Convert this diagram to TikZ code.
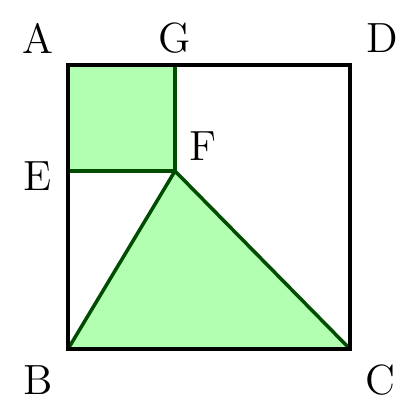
\documentclass[tikz,border=0pt]{standalone}
\usepackage{amsmath, amssymb}
\begin{document}
\begin{tikzpicture}[
    x=0.01cm, y=-0.01cm,
    region/.style={fill=green!30, draw=green!30!black, line width=1pt, line join=round},
    frame/.style={draw=black, line width=1.4pt},
    lbl/.style={font=\large, inner sep=0pt}
]
    \useasboundingbox (0,0) rectangle (420,414);
    % Points
    \coordinate (A) at (68,65);
    \coordinate (D) at (350,65);
    \coordinate (C) at (350,349);
    \coordinate (B) at (68,349);
    \coordinate (G) at (175,65);
    \coordinate (E) at (68,171);
    \coordinate (F) at (175,171);

    % Shaded regions
    \draw[region] (A) -- (G) -- (F) -- (E) -- cycle;
    \draw[region] (B) -- (F) -- (C) -- cycle;
    \draw[frame] (A) rectangle (C);

    % Labels
    \node[lbl] (lA) at (38,38) {A};
    \node[lbl] (lG) at (175,38) {G};
    \node[lbl] (lD) at (382,38) {D};
    \node[lbl] (lF) at (203,146) {F};
    \node[lbl] (lE) at (38,176) {E};
    \node[lbl] (lB) at (38,380) {B};
    \node[lbl] (lC) at (380,380) {C};
\end{tikzpicture}
\end{document}
